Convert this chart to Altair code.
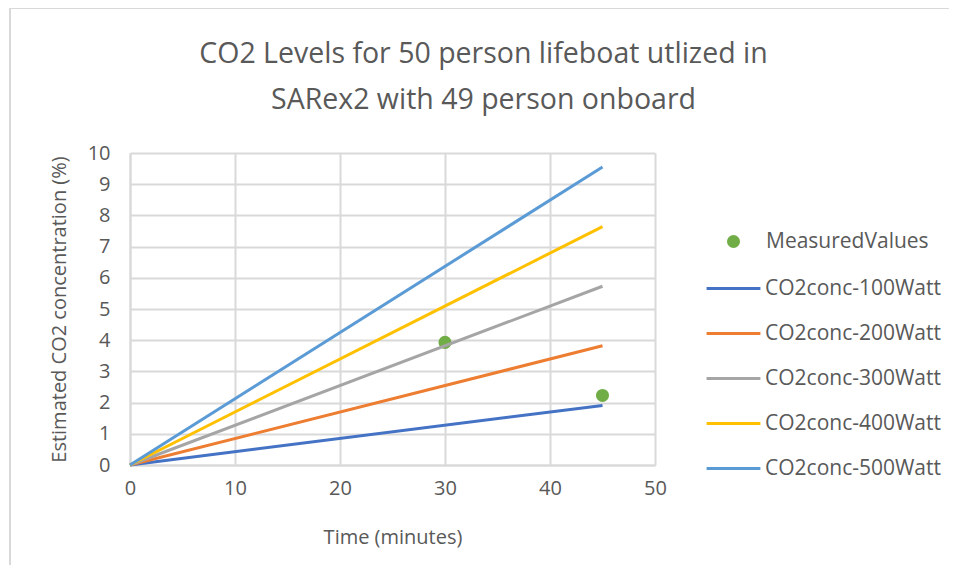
import altair as alt
import pandas as pd

# ---- data ----
series_names = ["CO2conc-100Watt", "CO2conc-200Watt", "CO2conc-300Watt",
                "CO2conc-400Watt", "CO2conc-500Watt"]
series_colors = ["#4472C4", "#ED7D31", "#A5A5A5", "#FFC000", "#5B9BD5"]
line_times = [0, 45]
line_start = [0.0, 0.0, 0.0, 0.0, 0.0]
line_end = [1.91, 3.82, 5.73, 7.64, 9.55]

measured_name = "MeasuredValues"
measured_times = [30, 45]
measured_values = [3.93, 2.23]

x_ticks = [0, 10, 20, 30, 40, 50]
y_ticks = [0, 1, 2, 3, 4, 5, 6, 7, 8, 9, 10]

title_lines = ["CO2 Levels for 50 person lifeboat utlized in",
               "SARex2 with 49 person onboard"]

# ---- tables ----
rows = []
for name, v0, v1 in zip(series_names, line_start, line_end):
    rows.append({"series": name, "time": line_times[0], "value": v0})
    rows.append({"series": name, "time": line_times[1], "value": v1})
lines_df = pd.DataFrame(rows)
meas_df = pd.DataFrame({"kind": [measured_name] * len(measured_times),
                        "time": measured_times, "value": measured_values})

FONT = "Open Sans"
TXT = "#595959"
GRID = "#D9D9D9"

x_enc = alt.X("time:Q", scale=alt.Scale(domain=[0, 50], nice=False),
              axis=alt.Axis(values=x_ticks, title="Time (minutes)", format="d",
                            labelFlush=False))
y_enc = alt.Y("value:Q", scale=alt.Scale(domain=[0, 10], nice=False),
              axis=alt.Axis(values=y_ticks, title="Estimated CO2 concentration (%)",
                            format="d", labelFlush=False))

points = alt.Chart(meas_df).mark_circle(size=170, opacity=1).encode(
    x=x_enc, y=y_enc,
    fill=alt.Fill("kind:N", scale=alt.Scale(domain=[measured_name], range=["#70AD47"]),
                  legend=alt.Legend(title=None, orient="none", legendX=593, legendY=78,
                                    symbolType="circle", symbolSize=170,
                                    labelOffset=22, labelFontSize=21, labelLimit=300,
                                    labelFont=FONT, labelColor=TXT)),
)

lines = alt.Chart(lines_df).mark_line(strokeWidth=3).encode(
    x=x_enc, y=y_enc,
    color=alt.Color("series:N", scale=alt.Scale(domain=series_names, range=series_colors),
                    legend=alt.Legend(title=None, orient="none", legendX=575, legendY=107,
                                      symbolType="stroke", symbolSize=2900,
                                      symbolStrokeWidth=3, labelOffset=3, labelLimit=300,
                                      labelFontSize=21, labelFont=FONT, labelColor=TXT,
                                      rowPadding=6)),
)

frame_top = alt.Chart(meas_df).mark_rule(color=GRID, strokeWidth=2).encode(
    x=alt.value(-120), x2=alt.value(830), y=alt.value(-145))
frame_left = alt.Chart(meas_df).mark_rule(color=GRID, strokeWidth=2).encode(
    x=alt.value(-120), y=alt.value(-145), y2=alt.value(420))

chart = alt.layer(frame_top, frame_left, points, lines).properties(
    width=525, height=312,
    autosize=alt.AutoSizeParams(type="none"),
    padding={"left": 122, "top": 145, "right": 294, "bottom": 100},
    title=alt.TitleParams(text=title_lines, fontSize=28.5, font=FONT, color=TXT,
                          fontWeight="normal", anchor="middle", dx=91,
                          lineHeight=46, offset=-107),
).configure_view(stroke=None).configure_axis(
    labelFont=FONT, labelFontSize=20, labelColor=TXT,
    titleFont=FONT, titleFontSize=20, titleColor=TXT, titleFontWeight="normal",
    gridColor=GRID, gridWidth=2, domainColor=GRID, domainWidth=2,
    tickSize=0, ticks=False,
).configure_axisX(labelPadding=13, titlePadding=29).configure_axisY(
    labelPadding=20, titlePadding=18)

chart.save("out.html", embed_options={"renderer": "svg", "actions": False})
